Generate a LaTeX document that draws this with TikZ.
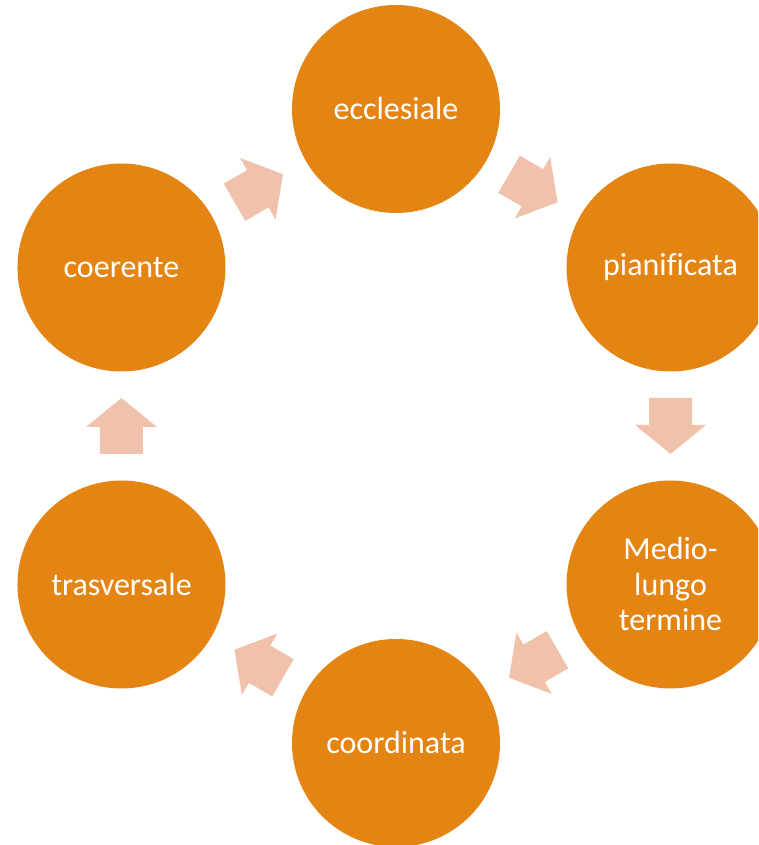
\documentclass[tikz,border=0pt]{standalone}
\usepackage{fontspec}
\setmainfont{Carlito}[Ligatures=NoCommon]
\usetikzlibrary{calc}
\definecolor{circcol}{HTML}{E48413}
\definecolor{arrcol}{HTML}{F0C2AB}
\newcommand\blockarr[2]{%
  \fill[arrcol, shift={(#1)}, rotate=#2]
    (-28,-21.5) -- (-1,-21.5) -- (-1,-35.5) -- (28,0) -- (-1,35.5) -- (-1,21.5) -- (-28,21.5) -- cycle;}
\begin{document}
\begin{tikzpicture}[x=1pt,y=1pt,
  stage/.style={circle,fill=circcol,minimum size=208pt,inner sep=0pt,text=white,
    font=\fontsize{32}{35.5}\selectfont,align=center}]
\useasboundingbox (0,0) rectangle (758,845);
\clip (0,0) rectangle (758,845);
\coordinate (C) at (396,419);
\node[stage] (n1) at ($(C)+(90:317)$) {ecclesiale};
\node[stage] (n2) at ($(C)+(30:317)$) {pianificata};
\node[stage] (n3) at ($(C)+(-30:317)$) {Medio-\\lungo\\termine};
\node[stage] (n4) at ($(C)+(-90:317)$) {coordinata};
\node[stage] (n5) at ($(C)+(-150:317)$) {trasversale};
\node[stage] (n6) at ($(C)+(150:317)$) {coerente};
\coordinate (a12) at ($(n1)!0.5!(n2)$);
\coordinate (a23) at ($(n2)!0.5!(n3)$);
\coordinate (a34) at ($(n3)!0.5!(n4)$);
\coordinate (a45) at ($(n4)!0.5!(n5)$);
\coordinate (a56) at ($(n5)!0.5!(n6)$);
\coordinate (a61) at ($(n6)!0.5!(n1)$);
\blockarr{a12}{-30}
\blockarr{a23}{-90}
\blockarr{a34}{-150}
\blockarr{a45}{150}
\blockarr{a56}{90}
\blockarr{a61}{30}
\end{tikzpicture}
\end{document}
